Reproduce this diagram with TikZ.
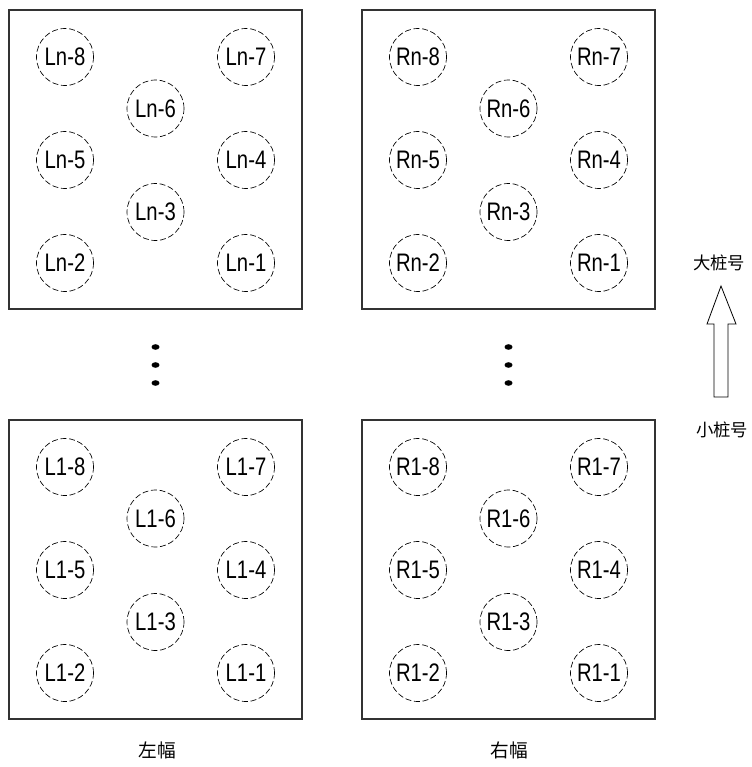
\documentclass[tikz,border=0pt]{standalone}
\usepackage{fontspec}
\setmainfont{Liberation Sans}[FakeStretch=0.8]
\newfontfamily\cjk{Noto Sans CJK SC}

\begin{document}
\begin{tikzpicture}[x=0.75pt,y=-0.75pt,
  plate/.style={draw=black!80,line width=0.9pt},
  pile/.style={circle,draw,line width=0.5pt,dash pattern=on 4.5pt off 2pt,
    minimum size=42.75pt,inner sep=0pt,font=\fontsize{19}{19}\selectfont},
  cjklabel/.style={font=\cjk\fontsize{13}{13}\selectfont,inner sep=0pt}]
\useasboundingbox (0,0) rectangle (752,767);
% Draw the four pile caps with their piles
\foreach \side/\xo in {L/9,R/362}{
  \foreach \num/\yo in {n/10,1/420}{
    \draw[plate] (\xo,\yo) rectangle +(293,299);
    \foreach \k/\dx/\dy in {1/237/253,2/56/253,3/146.5/202,4/237/150,
                            5/56/150,6/146.5/98.5,7/237/47,8/56/47}
      \node[pile] (\side\num-\k) at (\xo+\dx,\yo+\dy) {\side\num-\k};
  }
}
% Draw the dots between the rows
\foreach \xc in {155.5,508.5}
  \foreach \yc in {347,365,383}
    \fill (\xc,\yc) ellipse (4 and 2.8);
% Draw the side labels
\node[cjklabel,font=\cjk\fontsize{14}{14}\selectfont] (left) at (157,750) {左幅};
\node[cjklabel,font=\cjk\fontsize{14}{14}\selectfont] (right) at (509,750) {右幅};
% Draw the direction arrow
\node[cjklabel] (big) at (719,263) {大桩号};
\node[cjklabel] (small) at (722,430) {小桩号};
\draw[line width=0.6pt] (714,397) -- (714,324) -- (707,324) -- (721,286)
  -- (736,324) -- (728,324) -- (728,397) -- cycle;
\end{tikzpicture}
\end{document}
